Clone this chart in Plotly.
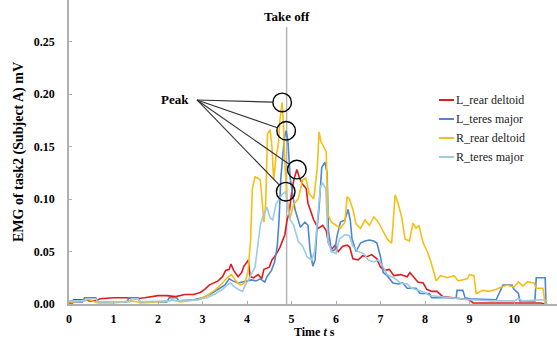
import math
import plotly.graph_objects as go

# ---------------- data ----------------
series_names = ["L_rear deltoid", "L_teres major", "R_rear deltoid", "R_teres major"]
series_colors = ["#e31b1f", "#4f86cf", "#f7be16", "#9ccbe3"]

l_rear_deltoid = [
    (0, 0.001), (0.08, 0.001), (0.1, 0.004), (0.4, 0.004), (0.45, 0.003), (0.6, 0.003),
    (0.7, 0.005), (1.0, 0.006), (1.3, 0.006), (1.5, 0.005), (1.7, 0.006), (1.9, 0.007),
    (2.0, 0.008), (2.2, 0.008), (2.4, 0.007), (2.6, 0.009), (2.8, 0.009), (2.95, 0.011),
    (3.05, 0.014), (3.15, 0.018), (3.25, 0.02), (3.35, 0.022), (3.45, 0.026), (3.52, 0.032),
    (3.6, 0.033), (3.64, 0.038), (3.7, 0.032), (3.8, 0.026), (3.88, 0.03), (3.93, 0.036),
    (4.0, 0.04), (4.03, 0.042), (4.07, 0.026), (4.15, 0.025), (4.25, 0.028), (4.33, 0.024),
    (4.38, 0.033), (4.5, 0.035), (4.56, 0.042), (4.65, 0.047), (4.74, 0.054), (4.8, 0.06),
    (4.85, 0.066), (4.9, 0.08), (4.95, 0.087), (5.0, 0.105), (5.05, 0.118), (5.12, 0.128),
    (5.18, 0.12), (5.25, 0.114), (5.33, 0.11), (5.37, 0.096), (5.45, 0.085), (5.5, 0.08),
    (5.6, 0.072), (5.7, 0.075), (5.78, 0.07), (5.83, 0.058), (5.9, 0.052), (5.98, 0.056),
    (6.05, 0.05), (6.15, 0.055), (6.25, 0.056), (6.31, 0.054), (6.38, 0.043), (6.5, 0.042),
    (6.6, 0.046), (6.7, 0.045), (6.8, 0.047), (6.92, 0.043), (7.0, 0.035), (7.1, 0.032),
    (7.2, 0.033), (7.3, 0.027), (7.45, 0.028), (7.6, 0.026), (7.66, 0.03), (7.75, 0.025),
    (7.84, 0.021), (7.96, 0.02), (8.04, 0.014), (8.15, 0.012), (8.27, 0.012), (8.4, 0.007),
    (8.6, 0.006), (8.85, 0.005), (9.0, 0.004), (9.08, 0.001), (9.5, 0.001), (9.75, 0.001),
    (10.35, 0.001), (10.6, 0.001), (10.7, 0.0),
]

l_teres_major = [
    (0, 0.002), (0.3, 0.002), (0.35, 0.006), (0.6, 0.006), (0.65, 0.002), (1.3, 0.002),
    (1.35, 0.006), (1.55, 0.006), (1.6, 0.002), (2.2, 0.002), (2.25, 0.006), (2.42, 0.006),
    (2.47, 0.003), (2.8, 0.004), (3.0, 0.006), (3.2, 0.01), (3.35, 0.014), (3.5, 0.018),
    (3.6, 0.024), (3.68, 0.022), (3.8, 0.02), (3.9, 0.021), (4.0, 0.022), (4.1, 0.023),
    (4.2, 0.022), (4.3, 0.024), (4.4, 0.021), (4.45, 0.026), (4.55, 0.032), (4.62, 0.04),
    (4.68, 0.055), (4.72, 0.08), (4.76, 0.12), (4.8, 0.14), (4.84, 0.158), (4.88, 0.165),
    (4.92, 0.155), (4.97, 0.12), (5.03, 0.105), (5.08, 0.09), (5.15, 0.08), (5.2, 0.073),
    (5.3, 0.078), (5.37, 0.075), (5.42, 0.05), (5.48, 0.036), (5.53, 0.042), (5.57, 0.07),
    (5.62, 0.092), (5.68, 0.13), (5.75, 0.135), (5.8, 0.125), (5.83, 0.07), (5.9, 0.05),
    (5.98, 0.052), (6.02, 0.064), (6.1, 0.078), (6.2, 0.08), (6.27, 0.09), (6.32, 0.08),
    (6.36, 0.062), (6.45, 0.05), (6.55, 0.058), (6.65, 0.06), (6.75, 0.061), (6.85, 0.06),
    (6.92, 0.058), (7.0, 0.045), (7.06, 0.03), (7.15, 0.027), (7.28, 0.02), (7.4, 0.019),
    (7.5, 0.02), (7.6, 0.015), (7.8, 0.015), (7.89, 0.01), (8.1, 0.01), (8.15, 0.006),
    (8.55, 0.006), (8.7, 0.006), (8.72, 0.013), (8.85, 0.013), (8.9, 0.006), (9.0, 0.005),
    (9.6, 0.004), (9.68, 0.012), (9.75, 0.018), (9.95, 0.018), (10.0, 0.014), (10.1, 0.01),
    (10.13, 0.003), (10.47, 0.003), (10.5, 0.025), (10.7, 0.025), (10.72, 0.0), (10.75, 0.0),
]

r_rear_deltoid = [
    (0, 0.002), (0.1, 0.002), (0.4, 0.004), (0.45, 0.004), (0.6, 0.002), (0.65, 0.001),
    (1.0, 0.001), (1.35, 0.003), (1.4, 0.003), (1.55, 0.002), (1.6, 0.001), (2.0, 0.002),
    (2.25, 0.003), (2.3, 0.004), (2.45, 0.003), (2.5, 0.002), (2.9, 0.004), (3.1, 0.008),
    (3.3, 0.014), (3.45, 0.02), (3.55, 0.025), (3.65, 0.028), (3.75, 0.022), (3.85, 0.018),
    (3.95, 0.02), (4.02, 0.03), (4.08, 0.06), (4.12, 0.11), (4.18, 0.121), (4.24, 0.12),
    (4.3, 0.118), (4.34, 0.1), (4.38, 0.078), (4.42, 0.095), (4.46, 0.162), (4.52, 0.166),
    (4.56, 0.15), (4.6, 0.118), (4.65, 0.14), (4.7, 0.15), (4.74, 0.175), (4.79, 0.192),
    (4.82, 0.17), (4.85, 0.134), (4.9, 0.1), (4.97, 0.082), (5.05, 0.095), (5.15, 0.1),
    (5.25, 0.118), (5.32, 0.12), (5.4, 0.105), (5.5, 0.1), (5.58, 0.13), (5.62, 0.164),
    (5.66, 0.155), (5.72, 0.15), (5.78, 0.145), (5.82, 0.085), (5.9, 0.078), (6.0, 0.075),
    (6.1, 0.072), (6.2, 0.078), (6.25, 0.102), (6.3, 0.1), (6.38, 0.09), (6.45, 0.076),
    (6.55, 0.072), (6.65, 0.08), (6.75, 0.075), (6.85, 0.083), (6.95, 0.078), (7.05, 0.07),
    (7.15, 0.062), (7.25, 0.058), (7.33, 0.104), (7.4, 0.095), (7.48, 0.082), (7.55, 0.062),
    (7.65, 0.06), (7.73, 0.077), (7.8, 0.072), (7.86, 0.075), (7.96, 0.058), (8.05, 0.05),
    (8.12, 0.042), (8.2, 0.03), (8.25, 0.022), (8.35, 0.027), (8.5, 0.025), (8.65, 0.027),
    (8.75, 0.022), (8.95, 0.024), (9.0, 0.028), (9.1, 0.027), (9.15, 0.01), (9.3, 0.013),
    (9.45, 0.012), (9.6, 0.014), (9.7, 0.016), (9.85, 0.018), (10.0, 0.016), (10.1, 0.021),
    (10.2, 0.017), (10.3, 0.021), (10.45, 0.02), (10.5, 0.015), (10.65, 0.015), (10.7, 0.0),
    (10.75, 0.0),
]

r_teres_major = [
    (0, 0.003), (0.35, 0.003), (0.4, 0.005), (0.6, 0.005), (0.65, 0.002), (1.35, 0.002),
    (1.4, 0.005), (1.55, 0.005), (1.6, 0.002), (2.25, 0.003), (2.3, 0.004), (2.45, 0.003),
    (2.9, 0.004), (3.1, 0.006), (3.3, 0.01), (3.45, 0.014), (3.55, 0.018), (3.62, 0.02),
    (3.7, 0.017), (3.8, 0.014), (3.9, 0.012), (3.96, 0.018), (4.02, 0.022), (4.1, 0.028),
    (4.18, 0.035), (4.24, 0.055), (4.3, 0.075), (4.37, 0.085), (4.45, 0.092), (4.52, 0.082),
    (4.58, 0.08), (4.65, 0.095), (4.72, 0.1), (4.8, 0.105), (4.87, 0.107), (4.92, 0.09),
    (4.97, 0.08), (5.05, 0.075), (5.15, 0.06), (5.25, 0.055), (5.35, 0.045), (5.45, 0.042),
    (5.52, 0.05), (5.58, 0.08), (5.65, 0.112), (5.7, 0.115), (5.77, 0.11), (5.82, 0.06),
    (5.9, 0.05), (6.0, 0.048), (6.08, 0.062), (6.2, 0.066), (6.3, 0.065), (6.38, 0.055),
    (6.5, 0.05), (6.62, 0.048), (6.72, 0.042), (6.85, 0.04), (6.95, 0.042), (7.05, 0.036),
    (7.15, 0.028), (7.3, 0.025), (7.45, 0.02), (7.6, 0.019), (7.7, 0.015), (7.85, 0.013),
    (8.0, 0.011), (8.1, 0.008), (8.3, 0.007), (8.5, 0.006), (8.7, 0.005), (9.0, 0.004),
    (9.5, 0.003), (10.0, 0.003), (10.1, 0.005), (10.2, 0.003), (10.6, 0.004), (10.75, 0.003),
]

takeoff_time = 4.89
peak_window = (4.5, 5.2)
x_ticks = list(range(0, 11))
y_ticks = [0.0, 0.05, 0.10, 0.15, 0.20, 0.25]

# ---------------- layout geometry ----------------
W, H = 557, 340
ML, MR, MT, MB = 69, 0, 0, 36
plot_w, plot_h = W - ML - MR, H - MT - MB
x_range = [0, plot_w / 44.5]
y_range = [0, plot_h / 1050.0]
px_t = plot_w / (x_range[1] - x_range[0])
px_v = plot_h / (y_range[1] - y_range[0])

FONT = "Liberation Serif, Times New Roman, serif"

all_series = [l_rear_deltoid, l_teres_major, r_rear_deltoid, r_teres_major]

fig = go.Figure()
for name, col, data in zip(series_names, series_colors, all_series):
    fig.add_trace(go.Scatter(
        x=[p[0] for p in data], y=[p[1] for p in data], mode="lines", name=name,
        line=dict(color=col, width=1.6), showlegend=False, hoverinfo="skip",
    ))

shapes = []
annotations = []

# take-off line
top_v = (plot_h - 27) / px_v
shapes.append(dict(type="line", xref="x", yref="y", x0=takeoff_time, x1=takeoff_time,
                   y0=0, y1=top_v, line=dict(color="#b5b5b5", width=1.5), layer="below"))
annotations.append(dict(x=takeoff_time, y=top_v, xref="x", yref="y", text="<b>Take off</b>",
                        showarrow=False, yanchor="bottom", xanchor="center", yshift=1,
                        font=dict(family=FONT, size=13, color="black")))

# peaks: circles around the local maxima near take-off, lines to "Peak" label
peak_src = (2.876, 0.1943)
R = 9.3
order = [2, 1, 0, 3]
for i in order:
    data = [p for p in all_series[i] if peak_window[0] <= p[0] <= peak_window[1]]
    pt, pv = max(data, key=lambda p: p[1])
    shapes.append(dict(type="circle", xref="x", yref="y", xsizemode="pixel", ysizemode="pixel",
                       xanchor=pt, yanchor=pv, x0=-R, x1=R, y0=-R, y1=R,
                       line=dict(color="black", width=1.4)))
    dx = (peak_src[0] - pt) * px_t
    dy = (peak_src[1] - pv) * px_v
    d = math.hypot(dx, dy)
    ex = pt + (dx / d * R) / px_t
    ey = pv + (dy / d * R) / px_v
    shapes.append(dict(type="line", xref="x", yref="y", x0=peak_src[0], y0=peak_src[1],
                       x1=ex, y1=ey, line=dict(color="#333333", width=1.1)))
annotations.append(dict(x=peak_src[0], y=peak_src[1], xref="x", yref="y", text="<b>Peak</b>",
                        showarrow=False, xanchor="right", yanchor="middle", xshift=-6,
                        font=dict(family=FONT, size=13, color="black")))

# manual legend
leg_x0, leg_x1 = 439, 454
leg_ys = [100, 119, 138, 157]
for name, col, ly in zip(series_names, series_colors, leg_ys):
    yp = (plot_h + MT - ly) / plot_h
    shapes.append(dict(type="line", xref="paper", yref="paper",
                       x0=(leg_x0 - ML) / plot_w, x1=(leg_x1 - ML) / plot_w, y0=yp, y1=yp,
                       line=dict(color=col, width=2)))
    annotations.append(dict(x=(leg_x1 - ML) / plot_w, y=yp, xref="paper", yref="paper",
                            text=name, showarrow=False, xanchor="left", yanchor="middle",
                            xshift=0, font=dict(family=FONT, size=12, color="#222222")))

# axis titles
annotations.append(dict(x=(314 - ML) / plot_w, y=(plot_h - 340) / plot_h, xref="paper", yref="paper",
                        text="<b>Time <i>t</i> s</b>", showarrow=False, xanchor="center",
                        yanchor="bottom", borderpad=0,
                        font=dict(family=FONT, size=12, color="black")))
annotations.append(dict(x=(19 - ML) / plot_w, y=0.5, xref="paper", yref="paper",
                        text="<b>EMG of task2 (Subject A) mV</b>", showarrow=False, textangle=-90,
                        xanchor="center", yanchor="middle",
                        font=dict(family=FONT, size=14, color="black")))

axis_common = dict(showgrid=False, zeroline=False, showline=True, linecolor="#b0b0b0",
                   linewidth=1.5, ticks="inside", ticklen=3, tickcolor="#b0b0b0",
                   tickfont=dict(family=FONT, size=12, color="black", weight="bold"))

fig.update_layout(
    width=W, height=H, margin=dict(l=ML, r=MR, t=MT, b=MB),
    paper_bgcolor="white", plot_bgcolor="white",
    xaxis=dict(range=x_range, tickvals=x_ticks, ticktext=[str(v) for v in x_ticks],
               ticklabelstandoff=3, **axis_common),
    yaxis=dict(range=y_range, tickvals=y_ticks, ticktext=[f"{v:.2f}" for v in y_ticks],
               ticklabelstandoff=10, **axis_common),
    shapes=shapes, annotations=annotations, showlegend=False,
)

fig.write_html("out.html", config={"displayModeBar": False},
               post_script="document.body.style.margin='0';document.body.style.overflow='hidden';")
